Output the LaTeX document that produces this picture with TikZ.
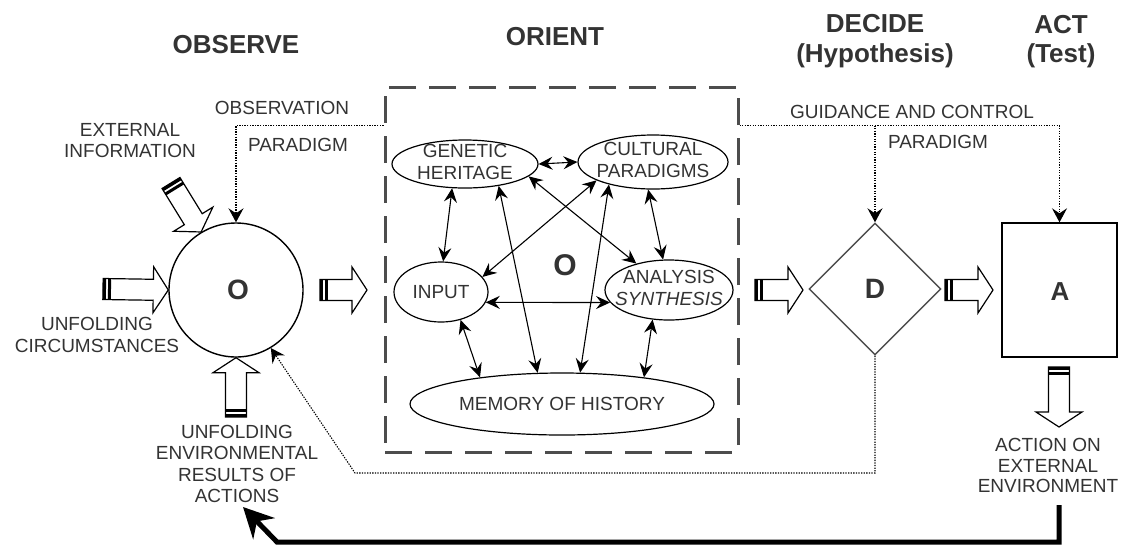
\documentclass[tikz,border=0pt]{standalone}
\usepackage{fontspec}
\setmainfont{Liberation Sans}
\usetikzlibrary{shapes.geometric,arrows.meta,calc}
\definecolor{txt}{HTML}{333333}
\definecolor{dgray}{HTML}{4D4D4D}
\newcommand\bodyfont{\fontsize{19}{21.5}\selectfont}
\newcommand\headfont{\fontsize{26}{30}\selectfont\bfseries}
\newcommand\blockarrow[2]{%
  \coordinate (bat) at (#1);
  \coordinate (bah) at (#2);
  \coordinate (bab) at ($(bah)!15pt!(bat)$);
  \coordinate (bs1) at ($(bat)!3pt!(bah)$);
  \coordinate (bs2) at ($(bat)!5pt!(bah)$);
  \coordinate (bs3) at ($(bat)!8pt!(bah)$);
  \draw[blockarr] ($(bat)!10.5pt!90:(bah)$) -- ($(bab)!10.5pt!90:(bah)$) -- ($(bab)!23pt!90:(bah)$) -- (bah) -- ($(bab)!23pt!-90:(bah)$) -- ($(bab)!10.5pt!-90:(bah)$) -- ($(bat)!10.5pt!-90:(bah)$) -- cycle;
  \fill ($(bat)!10.5pt!90:(bah)$) -- ($(bs1)!10.5pt!90:(bah)$) -- ($(bs1)!10.5pt!-90:(bah)$) -- ($(bat)!10.5pt!-90:(bah)$) -- cycle;
  \fill ($(bs2)!10.5pt!90:(bah)$) -- ($(bs3)!10.5pt!90:(bah)$) -- ($(bs3)!10.5pt!-90:(bah)$) -- ($(bs2)!10.5pt!-90:(bah)$) -- cycle;
}
\begin{document}
\begin{tikzpicture}[x=1pt,y=-1pt,
  txtnode/.style={text=txt, font=\bodyfont, align=center, inner sep=0pt},
  head/.style={text=txt, font=\headfont, anchor=base, inner sep=0pt},
  ell/.style={draw, ellipse, inner sep=0pt, line width=1.2pt},
  dbl/.style={{Stealth[length=14pt,width=13pt,inset=5pt]}-{Stealth[length=14pt,width=13pt,inset=5pt]}, line width=1.1pt},
  dotarrow/.style={line width=1.1pt, dash pattern=on 1.3pt off 1.3pt, -{Stealth[length=14pt,width=15pt,inset=5pt]}},
  blockarr/.style={draw=black, fill=white, line width=1.2pt, line join=miter},
  bigletter/.style={text=txt, font=\fontsize{28}{30}\selectfont\bfseries, inner sep=0pt}
]
\useasboundingbox (0,0) rectangle (1123,547);

% headers
\node[head] (hobs) at (236,53) {OBSERVE};
\node[head] (hori) at (555,45) {ORIENT};
\node[head] (hdec) at (875,32) {DECIDE};
\node[head] (hhyp) at (875,62) {(Hypothesis)};
\node[head] (hact) at (1061,33) {ACT};
\node[head] (htst) at (1061,62) {(Test)};

% main nodes
\node[draw, circle, minimum size=134pt, inner sep=0pt, line width=1.4pt] (circ) at (236,290) {};
\node[bigletter] at (238,290) {O};
\node[draw=dgray, dash pattern=on 27pt off 13pt, line width=3pt, rectangle, minimum width=353pt, minimum height=365pt, inner sep=0pt] (orbox) at (561.5,269.5) {};
\node[draw=dgray, diamond, aspect=1, minimum width=132pt, minimum height=132pt, inner sep=0pt, line width=1.4pt] (dia) at (875,289) {};
\node[bigletter] at (875,289) {D};
\node[draw, rectangle, minimum width=115pt, minimum height=134pt, inner sep=0pt, line width=1.4pt] (act) at (1059.5,290) {};
\node[bigletter, font=\fontsize{26}{28}\selectfont\bfseries] at (1060,292) {A};

% ellipses
\node[ell, minimum width=146pt, minimum height=48pt, label={[txtnode, yshift=2pt]center:GENETIC\\HERITAGE}] (gen) at (465,164) {};
\node[ell, minimum width=150pt, minimum height=54pt, label={[txtnode, yshift=2pt]center:CULTURAL\\PARADIGMS}] (cul) at (653,162) {};
\node[ell, minimum width=94pt, minimum height=60pt, label={[txtnode]center:INPUT}] (inp) at (441,292) {};
\node[ell, minimum width=128pt, minimum height=60pt, label={[txtnode, yshift=2pt]center:ANALYSIS\\\textit{SYNTHESIS}}] (ana) at (669,290) {};
\node[ell, minimum width=304pt, minimum height=62pt, label={[txtnode]center:MEMORY OF HISTORY}] (mem) at (562,404) {};
\node[bigletter, font=\fontsize{30}{32}\selectfont\bfseries] at (565,265) {O};

% inner arrows
\draw[dbl] (gen.0) -- (cul.180);
\draw[dbl] (gen.-118) -- (inp.86);
\draw[dbl] (gen.-33) -- (mem.128);
\draw[dbl] (gen.-11) -- (ana.141);
\draw[dbl] (cul.-162) -- (inp.20);
\draw[dbl] (cul.-153) -- (mem.60);
\draw[dbl] (cul.-100) -- (ana.101);
\draw[dbl] (inp.-13) -- (ana.-168);
\draw[dbl] (inp.-55) -- (mem.162);
\draw[dbl] (ana.-119) -- (mem.18);

% labels
\node[txtnode] at (282,107.5) {OBSERVATION};
\node[txtnode] at (298,145) {PARADIGM};
\node[txtnode] at (130,140.7) {EXTERNAL\\INFORMATION};
\node[txtnode] at (912,111.5) {GUIDANCE AND CONTROL};
\node[txtnode] at (938,141.5) {PARADIGM};
\node[txtnode] at (97,334.7) {UNFOLDING\\CIRCUMSTANCES};
\node[txtnode] at (237,463.7) {UNFOLDING\\ENVIRONMENTAL\\RESULTS OF\\ACTIONS};
\node[txtnode, font=\fontsize{19}{20.5}\selectfont] at (1048,465.7) {ACTION ON\\EXTERNAL\\ENVIRONMENT};

% dotted control lines
\coordinate (g0) at ([yshift=-40pt]orbox.north east);
\coordinate (o0) at ([yshift=-40pt]orbox.north west);
\draw[dotarrow] (o0) -| (circ.north);
\draw[dotarrow] (g0) -| (act.north);
\draw[dotarrow] (dia.north |- g0) -- (dia.north);
\coordinate (fb) at (355,473);
\draw[dotarrow] (dia.south) |- (fb) -- (circ.-59);

% block arrows
\blockarrow{171,183}{circ.121}
\blockarrow{103,289}{circ.west}
\blockarrow{236,417}{circ.south}
\blockarrow{320,290}{367,290}
\blockarrow{755,290}{803,290}
\blockarrow{945,290}{993,290}
\blockarrow{1059,367}{1059,427}

% big feedback arrow
\coordinate (bf0) at (1059,505);
\coordinate (bf1) at (277,542);
\coordinate (bf2) at (243,507);
\draw[line width=5pt, line join=miter, -{Stealth[length=30pt,width=30pt,inset=10pt]}] (bf0) |- (bf1) -- (bf2);
\end{tikzpicture}
\end{document}
